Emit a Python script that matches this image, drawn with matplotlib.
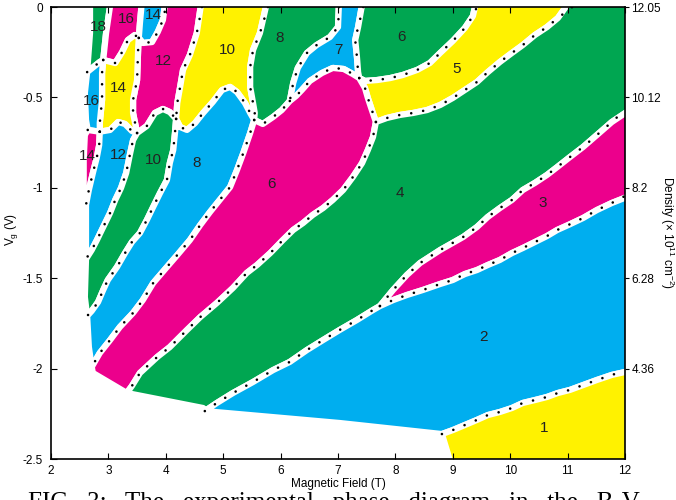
import matplotlib.pyplot as plt

# ─── STYLE ──────────────────────────────────────────────
plt.rcParams["font.family"] = ["Liberation Sans", "DejaVu Sans"]
plt.rcParams["axes.unicode_minus"] = False

GREEN = "#00a651"
MAGENTA = "#ec008c"
CYAN = "#00aeef"
YELLOW = "#fff200"

# ─── BOUNDARIES (B in T, Vg in V) ───────────────────────
# region boundaries, named b_<upper/left>_<lower/right>
b_18_16 = [(3.05, 0), (2.96, -0.144), (2.91, -0.293)]
b_18_bottom = [(2.63, -0.360), (2.85, -0.304), (2.91, -0.293)]
b_16_14y = [(2.91, -0.293), (3.12, -0.310), (3.24, -0.249), (3.34, -0.183), (3.46, -0.155), (3.53, -0.171)]
b_16_14c = [(3.53, -0.171), (3.55, -0.088), (3.59, 0)]
b_14c_12 = [(3.53, -0.171), (3.60, -0.199), (3.76, -0.194), (3.86, -0.138), (3.95, -0.072), (4.00, 0)]
b_16c_14y = [(2.91, -0.293), (2.89, -0.365), (2.89, -0.514), (2.85, -0.642), (2.85, -0.69)]
b_16c_14m = [(2.64, -0.680), (2.85, -0.69)]
b_14y_12m = [(3.53, -0.171), (3.52, -0.221), (3.50, -0.404), (3.43, -0.514), (3.43, -0.586), (3.50, -0.697)]
b_14y_12c = [(2.85, -0.69), (3.03, -0.680), (3.17, -0.636), (3.29, -0.647), (3.41, -0.686), (3.50, -0.697)]
b_12m_10g = [(3.50, -0.697), (3.67, -0.658), (3.81, -0.586), (3.95, -0.564), (4.07, -0.581), (4.18, -0.619)]
b_12m_10y = [(4.63, 0), (4.54, -0.144), (4.42, -0.265), (4.30, -0.348), (4.25, -0.442), (4.20, -0.531),
             (4.18, -0.619)]
b_14m_12c = [(2.85, -0.69), (2.84, -0.763), (2.80, -0.830), (2.73, -0.918), (2.66, -1.012), (2.61, -1.095)]
b_12c_10g = [(3.50, -0.697), (3.43, -0.736), (3.38, -0.808), (3.31, -0.918), (3.22, -1.001), (3.12, -1.067),
             (3.03, -1.139), (2.91, -1.217), (2.80, -1.289), (2.71, -1.344), (2.61, -1.394)]
b_10g_8c = [(4.18, -0.619), (4.16, -0.697), (4.13, -0.791), (4.07, -0.863), (4.02, -0.957), (3.90, -1.029),
            (3.78, -1.106), (3.67, -1.178), (3.55, -1.250), (3.41, -1.300), (3.29, -1.361), (3.15, -1.438),
            (2.99, -1.510), (2.91, -1.565), (2.82, -1.632), (2.71, -1.681), (2.63, -1.709)]
b_10y_8c = [(4.18, -0.619), (4.25, -0.664), (4.37, -0.680), (4.51, -0.642), (4.65, -0.586), (4.82, -0.525),
            (4.98, -0.459), (5.12, -0.442), (5.24, -0.470), (5.38, -0.531), (5.47, -0.586), (5.54, -0.625)]
b_10y_8g = [(5.78, 0), (5.64, -0.144), (5.52, -0.238), (5.47, -0.332), (5.47, -0.442), (5.52, -0.531),
            (5.55, -0.586), (5.54, -0.625)]
b_8c_6m = [(5.54, -0.625), (5.47, -0.697), (5.35, -0.808), (5.24, -0.902), (5.12, -0.996), (4.94, -1.067),
           (4.77, -1.134), (4.60, -1.206), (4.42, -1.289), (4.20, -1.372), (4.02, -1.438), (3.78, -1.527),
           (3.60, -1.621), (3.43, -1.692), (3.20, -1.770), (3.03, -1.842), (2.85, -1.914), (2.71, -1.991)]
b_8g_6m = [(5.54, -0.625), (5.69, -0.647), (5.87, -0.608), (6.02, -0.570), (6.16, -0.520)]
b_8g_7 = [(7.02, 0), (7.00, -0.111), (6.86, -0.166), (6.63, -0.210), (6.46, -0.254), (6.30, -0.337),
          (6.22, -0.420), (6.16, -0.520)]
b_7_6m = [(6.16, -0.520), (6.27, -0.492), (6.37, -0.459), (6.51, -0.409), (6.72, -0.365), (6.91, -0.337),
          (7.10, -0.343), (7.26, -0.371), (7.37, -0.393)]
b_7_6g = [(7.44, 0), (7.35, -0.111), (7.30, -0.183), (7.33, -0.277), (7.35, -0.360), (7.37, -0.393)]
b_6g_5 = [(7.37, -0.393), (7.47, -0.409), (7.68, -0.404), (7.91, -0.393), (8.13, -0.376), (8.38, -0.348),
          (8.60, -0.310), (8.78, -0.254), (9.00, -0.188), (9.21, -0.116), (9.35, -0.050), (9.42, 0)]
b_6m_5 = [(7.37, -0.393), (7.47, -0.448), (7.52, -0.503), (7.59, -0.570), (7.66, -0.636)]
b_5_4 = [(7.66, -0.636), (7.85, -0.614), (8.08, -0.597), (8.31, -0.586), (8.55, -0.570), (8.78, -0.542),
         (9.00, -0.503), (9.21, -0.459), (9.42, -0.415), (9.61, -0.360), (9.82, -0.304), (10.03, -0.254),
         (10.22, -0.210), (10.43, -0.155), (10.64, -0.111), (10.83, -0.061), (11.08, 0)]
b_6m_4 = [(7.66, -0.636), (7.61, -0.719), (7.52, -0.791), (7.42, -0.863), (7.26, -0.940), (7.09, -1.012),
          (6.91, -1.067), (6.74, -1.112), (6.56, -1.150), (6.39, -1.195), (6.22, -1.233), (6.04, -1.289),
          (5.82, -1.361), (5.59, -1.427), (5.41, -1.471), (5.17, -1.554), (4.89, -1.637), (4.60, -1.715),
          (4.37, -1.786), (4.07, -1.881), (3.85, -1.936), (3.55, -2.024), (3.41, -2.096), (3.32, -2.135)]
b_4_2 = [(4.68, -2.235), (4.89, -2.190), (5.17, -2.135), (5.52, -2.074), (5.87, -2.008), (6.16, -1.963),
         (6.46, -1.897), (6.74, -1.842), (7.03, -1.786), (7.33, -1.731), (7.61, -1.676), (7.73, -1.654)]
b_4_3 = [(7.73, -1.654), (7.96, -1.565), (8.20, -1.482), (8.43, -1.416), (8.78, -1.344), (9.18, -1.272),
         (9.42, -1.217), (9.61, -1.161), (9.82, -1.112), (10.03, -1.067), (10.22, -1.012), (10.43, -0.973),
         (10.64, -0.929), (10.82, -0.885), (11.04, -0.830), (11.27, -0.774), (11.51, -0.708), (11.77, -0.636),
         (12.00, -0.570)]
b_3_2 = [(7.73, -1.654), (7.96, -1.621), (8.20, -1.593), (8.48, -1.565), (8.78, -1.532), (9.00, -1.510),
         (9.21, -1.477), (9.42, -1.455), (9.61, -1.427), (9.82, -1.399), (10.03, -1.361), (10.22, -1.333),
         (10.43, -1.300), (10.64, -1.267), (10.82, -1.233), (11.01, -1.206), (11.27, -1.167), (11.51, -1.123),
         (11.77, -1.084), (12.00, -1.045)]
b_2_1 = [(8.81, -2.362), (9.00, -2.340), (9.21, -2.312), (9.42, -2.284), (9.61, -2.257), (9.82, -2.240),
         (10.03, -2.218), (10.22, -2.190), (10.43, -2.174), (10.64, -2.157), (10.83, -2.135), (11.04, -2.118),
         (11.27, -2.091), (11.51, -2.063), (11.77, -2.035), (12.00, -2.013)]

# outer edge of the measured area
o_18 = [(2.68, 0), (2.68, -0.144), (2.63, -0.360)]
o_16 = [(2.63, -0.360), (2.59, -0.476), (2.61, -0.625), (2.64, -0.680)]
o_14 = [(2.64, -0.680), (2.59, -0.708), (2.57, -0.846), (2.57, -1.012), (2.61, -1.095)]
o_12 = [(2.61, -1.095), (2.61, -1.289), (2.61, -1.394)]
o_10 = [(2.61, -1.394), (2.59, -1.604), (2.63, -1.709)]
o_8 = [(2.63, -1.709), (2.66, -1.881), (2.71, -1.991)]
o_6 = [(2.71, -1.991), (2.73, -2.024), (3.29, -2.129), (3.32, -2.135)]
o_4 = [(3.32, -2.135), (4.65, -2.218), (4.68, -2.235)]
o_2 = [(4.68, -2.235), (7.03, -2.301), (8.81, -2.362)]
o_1 = [(8.81, -2.362), (8.99, -2.5)]

# right axis: carrier density at the Vg ticks
vg_ticks = [0, -0.5, -1, -1.5, -2]
density_labels = ["12.05", "10.12", "8.2", "6.28", "4.36"]

# filling factor labels
label_text = ["18", "16", "14", "12", "10", "8", "7", "6", "5", "14", "16", "14", "12", "10", "8",
              "6", "4", "3", "2", "1"]
label_B = [2.82, 3.32, 3.78, 3.95, 5.07, 5.99, 7.00, 8.11, 9.06, 3.18, 2.71, 2.63, 3.17, 3.78, 4.54,
           5.85, 8.08, 10.57, 9.54, 10.59]
label_V = [-0.111, -0.066, -0.044, -0.299, -0.238, -0.171, -0.238, -0.166, -0.343, -0.448, -0.520,
           -0.824, -0.819, -0.846, -0.863, -0.979, -1.029, -1.084, -1.825, -2.329]

CAPTION = "FIG.  3:   The   experimental   phase   diagram   in   the   B-V"


def rev(seg):
    return seg[::-1]


def poly(*parts):
    """join boundary pieces and push points on the frame slightly outside"""
    pts = [p for part in parts for p in part]
    out = []
    for b, v in pts:
        if v >= 0:
            v = 0.05
        if v <= -2.5:
            v = -2.55
        if b >= 12:
            b = 12.08
        out.append((b, v))
    return zip(*out)


regions = [
    (GREEN, poly(o_18, b_18_bottom, rev(b_18_16))),
    (MAGENTA, poly(b_18_16, b_16_14y, b_16_14c)),
    (CYAN, poly(b_16_14c, rev(b_14c_12))),
    (MAGENTA, poly(b_14c_12, b_12m_10y, rev(b_12m_10g), rev(b_14y_12m))),
    (YELLOW, poly(b_16_14y, b_14y_12m, rev(b_14y_12c), rev(b_16c_14y))),
    (CYAN, poly(o_16, b_16c_14m, rev(b_16c_14y), rev(b_18_bottom))),
    (MAGENTA, poly(o_14, rev(b_14m_12c), rev(b_16c_14m))),
    (CYAN, poly(b_14y_12c, b_12c_10g, rev(o_12), rev(b_14m_12c))),
    (GREEN, poly(b_12m_10g, b_10g_8c, rev(o_10), rev(b_12c_10g))),
    (YELLOW, poly(b_10y_8g, rev(b_10y_8c), rev(b_12m_10y))),
    (CYAN, poly(b_10y_8c, b_8c_6m, rev(o_8), rev(b_10g_8c))),
    (GREEN, poly(b_8g_7, rev(b_8g_6m), rev(b_10y_8g))),
    (CYAN, poly(b_7_6g, rev(b_7_6m), rev(b_8g_7))),
    (GREEN, poly(rev(b_6g_5), rev(b_7_6g))),
    (YELLOW, poly(rev(b_5_4), rev(b_6m_5), b_6g_5)),
    (MAGENTA, poly(b_8g_6m, b_7_6m, b_6m_5, b_6m_4, rev(o_6), rev(b_8c_6m))),
    (GREEN, poly(o_4, b_4_2, b_4_3, [(12, 0)], rev(b_5_4), b_6m_4)),
    (MAGENTA, poly(b_4_3, rev(b_3_2))),
    (CYAN, poly(o_2, b_2_1, rev(b_3_2), rev(b_4_2))),
    (YELLOW, poly(o_1, [(12, -2.5)], rev(b_2_1))),
]

dotted = [b_18_bottom, b_16_14y, b_14c_12, b_16c_14y, b_16c_14m, b_14y_12m, b_14y_12c, b_12m_10g,
          b_12m_10y, b_14m_12c, b_12c_10g, b_10g_8c, b_10y_8c, b_10y_8g, b_8c_6m, b_8g_6m, b_8g_7,
          b_7_6m, b_7_6g, b_6g_5, b_6m_5, b_5_4, b_6m_4, b_4_2, b_4_3, b_3_2, b_2_1]

# ─── PLOT ───────────────────────────────────────────────
fig = plt.figure(figsize=(6.76, 5.0), dpi=100)
ax = fig.add_axes([0.0754, 0.082, 0.8492, 0.904])

for color, (xs, ys) in regions:
    ax.fill(xs, ys, facecolor=color, edgecolor="white", linewidth=4.5, joinstyle="round", zorder=1)

for seg in dotted:
    xs, ys = zip(*seg)
    ax.plot(xs, ys, color="black", linewidth=1.9, linestyle=(0, (0.01, 4.6)),
            dash_capstyle="round", zorder=3)

for t, b, v in zip(label_text, label_B, label_V):
    ax.text(b, v, t, fontsize=11, color="#222222", ha="center", va="center", zorder=4)

ax.set_xlim(2, 12)
ax.set_ylim(-2.5, 0)
ax.set_xticks(range(2, 13))
ax.set_yticks([0, -0.5, -1, -1.5, -2, -2.5])
ax.set_yticklabels(["0", "-0.5", "-1", "-1.5", "-2", "-2.5"])
ax.tick_params(axis="both", direction="in", length=4, width=0.8, labelsize=8.5, pad=4,
               top=True, right=False)
ax.tick_params(axis="y", pad=6)
for s in ax.spines.values():
    s.set_linewidth(1.2)
    s.set_zorder(5)

ax.set_xlabel("Magnetic Field (T)", fontsize=8.5)
ax.xaxis.set_label_coords(0.5, -0.042)
ax.set_ylabel(r"$\mathregular{V_g}$ (V)", fontsize=8.5)
ax.yaxis.set_label_coords(-0.054, 0.507)

ax2 = ax.twinx()
ax2.set_ylim(-2.5, 0)
ax2.set_yticks(vg_ticks)
ax2.set_yticklabels(density_labels)
ax2.tick_params(axis="y", direction="out", length=3, width=0.8, labelsize=8.5, pad=1.5)
ax2.set_ylabel(r"Density (× 10$\mathregular{^{11}}$ cm$\mathregular{^{-2}}$)", fontsize=8.5,
               rotation=270, va="center")
ax2.yaxis.set_label_coords(1.073, 0.5)
for s in ax2.spines.values():
    s.set_visible(False)

# caption of the source figure, cut off by the lower edge
fig.text(28 / 676, -0.019, CAPTION, fontsize=18,
         family=["Liberation Serif", "DejaVu Serif"], ha="left", va="baseline")

fig.savefig("out.png", dpi=100)
